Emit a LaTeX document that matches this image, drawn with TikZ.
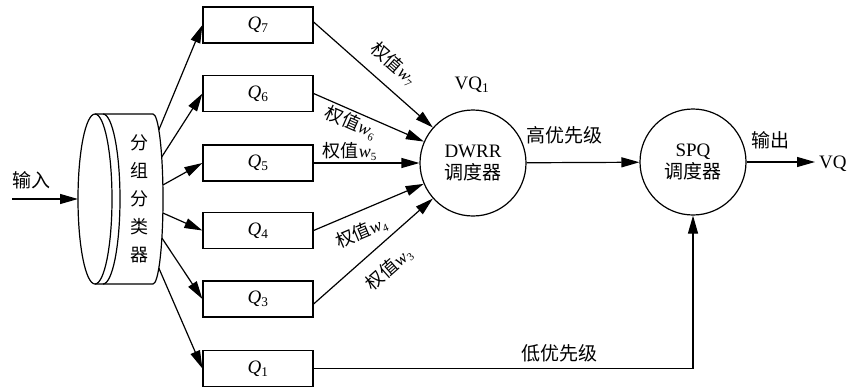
\documentclass[tikz,border=0pt]{standalone}
\usepackage{fontspec}
\setmainfont{Liberation Serif}
\newfontfamily\cjk{Noto Sans CJK SC}
\usetikzlibrary{arrows.meta}
\newcommand\zhtext[1]{{\cjk #1}}
\newcommand\wsub[1]{\textit{w}\raisebox{-3pt}{\fontsize{11}{12}\selectfont #1}}
\tikzset{
  arr/.style={line width=1.2pt,-{Triangle[length=18pt,width=10pt]}},
  qbox/.style={draw,line width=1.2pt,minimum width=110pt,minimum height=36pt,inner sep=0pt,font=\fontsize{19}{22}\selectfont},
  sched/.style={draw,circle,line width=1.2pt,minimum size=106pt,inner sep=0pt,align=center,font=\fontsize{19}{22}\selectfont},
  lbl/.style={inner sep=0pt,font=\fontsize{19}{22}\selectfont},
  wlbl/.style={inner sep=0pt,font=\fontsize{18}{20}\selectfont,sloped},
}
\begin{document}
\begin{tikzpicture}[x=1pt,y=-1pt]
\useasboundingbox (0,0) rectangle (850,389);
% classifier cylinder
\draw[line width=1.2pt] (95,199) ellipse [x radius=17pt, y radius=85pt];
\draw[line width=1.2pt] (103,114) arc [start angle=90, end angle=-90, x radius=17pt, y radius=85pt];
\draw[line width=1.2pt] (95,114) -- (153,114) arc [start angle=90, end angle=-90, x radius=10pt, y radius=85pt] -- (95,284);
\node[align=center,inner sep=0pt,font=\cjk\fontsize{18}{28}\selectfont] (cls) at (139,199) {分\\组\\分\\类\\器};
\coordinate (cylL) at (78,199);
\coordinate (s7) at (158.8,130);
\coordinate (s6) at (161.7,157);
\coordinate (s5) at (162.9,185);
\coordinate (s4) at (162.9,213);
\coordinate (s3) at (161.9,238);
\coordinate (s1) at (158.8,268);
% input
\coordinate (in) at (12,199);
\draw[arr] (in) -- node[lbl,pos=0.29,above=9pt] (inl) {\zhtext{输入}} (cylL);
% queues
\node[qbox] (q7) at (258,25) {\textit{Q}\textsubscript{7}};
\node[qbox] (q6) at (258,93.5) {\textit{Q}\textsubscript{6}};
\node[qbox] (q5) at (258,163) {\textit{Q}\textsubscript{5}};
\node[qbox] (q4) at (258,230.5) {\textit{Q}\textsubscript{4}};
\node[qbox] (q3) at (258,299) {\textit{Q}\textsubscript{3}};
\node[qbox] (q1) at (258,368.5) {\textit{Q}\textsubscript{1}};
\draw[arr] (s7) -- (q7.west);
\draw[arr] (s6) -- (q6.west);
\draw[arr] (s5) -- (q5.west);
\draw[arr] (s4) -- (q4.west);
\draw[arr] (s3) -- (q3.west);
\draw[arr] (s1) -- (q1.west);
% schedulers
\node[sched] (dwrr) at (473,163) {DWRR\\\zhtext{调度器}};
\node[sched] (spq) at (693,162) {SPQ\\\zhtext{调度器}};
\node[lbl] (vq1) at (472,85) {VQ\textsubscript{1}};
\draw[arr] ([yshift=3pt]q7.east) -- node[wlbl,pos=0.55,above=12pt] (w7) {\zhtext{权值}\wsub{7}} (dwrr);
\draw[arr] (q6.east) -- node[wlbl,pos=0.38,below=2pt] (w6) {\zhtext{权值}\wsub{6}} (dwrr);
\draw[arr] (q5.east) -- node[wlbl,pos=0.34,above=2pt] (w5) {\zhtext{权值}\wsub{5}} (dwrr);
\draw[arr] (q4.east) -- node[wlbl,pos=0.36,below=11pt] (w4) {\zhtext{权值}\wsub{4}} (dwrr);
\draw[arr] ([yshift=-5pt]q3.east) -- node[wlbl,pos=0.5,below=14pt] (w3) {\zhtext{权值}\wsub{3}} (dwrr);
% priorities
\draw[arr] (dwrr) -- node[lbl,pos=0.34,above=18pt] (hi) {\zhtext{高优先级}} (spq);
\draw[arr] (q1.east) -| node[lbl,pos=0.324,above=5.5pt] (lo) {\zhtext{低优先级}} (spq.south);
% output
\coordinate (out) at (815,162);
\draw[arr] (spq) -- node[lbl,pos=0.35,above=12pt] (outl) {\zhtext{输出}} (out);
\node[lbl,anchor=west] (vq) at ([xshift=4pt,yshift=-2pt]out) {VQ};
\end{tikzpicture}
\end{document}
